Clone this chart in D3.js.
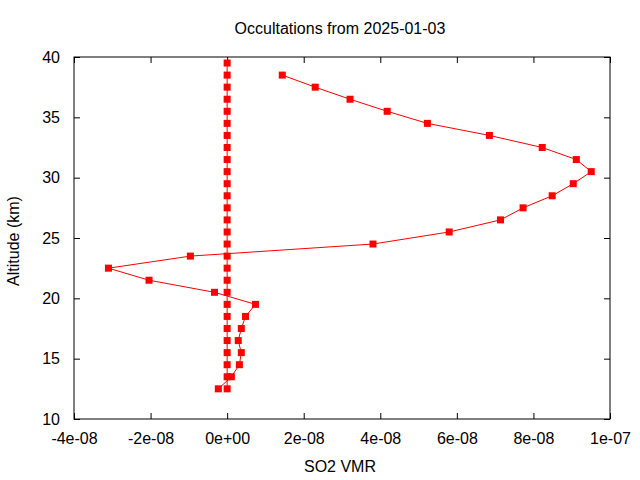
<!DOCTYPE html>
<html>
<head>
<meta charset="utf-8">
<script src="https://cdn.jsdelivr.net/npm/d3@7"></script>
<style>
  body { margin: 0; background: #fff; }
  text { font-family: "Liberation Sans", Arial, sans-serif; }
</style>
</head>
<body>
<svg id="chart" width="640" height="480"></svg>
<script>
    // altitudes (km) shared by both profiles
    let altitudes = [38.5, 37.5, 36.5, 35.5, 34.5, 33.5, 32.5, 31.5, 30.5, 29.5, 28.5, 27.5,
        26.5, 25.5, 24.5, 23.5, 22.5, 21.5, 20.5, 19.5, 18.5, 17.5, 16.5, 15.5, 14.5, 13.5, 12.5];
    // retrieved SO2 VMR
    let so2Values = [1.44e-8, 2.30e-8, 3.21e-8, 4.18e-8, 5.23e-8, 6.85e-8, 8.23e-8, 9.12e-8, 9.51e-8,
        9.04e-8, 8.49e-8, 7.73e-8, 7.14e-8, 5.80e-8, 3.81e-8, -9.6e-9, -3.10e-8, -2.04e-8, -3.3e-9,
        7.4e-9, 4.8e-9, 3.7e-9, 2.9e-9, 3.7e-9, 3.2e-9, 1.1e-9, -2.3e-9];
    // a priori profile, all zero
    let aprioriAlt = [39.5, 38.5, 37.5, 36.5, 35.5, 34.5, 33.5, 32.5, 31.5, 30.5, 29.5, 28.5, 27.5,
        26.5, 25.5, 24.5, 23.5, 22.5, 21.5, 20.5, 19.5, 18.5, 17.5, 16.5, 15.5, 14.5, 13.5, 12.5];
    let aprioriValues = [0, 0, 0, 0, 0, 0, 0, 0, 0, 0, 0, 0, 0, 0,
        0, 0, 0, 0, 0, 0, 0, 0, 0, 0, 0, 0, 0, 0];

    let xTicks = [-4e-8, -2e-8, 0, 2e-8, 4e-8, 6e-8, 8e-8, 1e-7];
    let xTickLabels = ['-4e-08', '-2e-08', '0e+00', '2e-08', '4e-08', '6e-08', '8e-08', '1e-07'];
    let yTicks = [10, 15, 20, 25, 30, 35, 40];

    (function () {
        let svg = d3.select('#chart');
        let plotLeft = 74, plotRight = 610, plotTop = 57, plotBottom = 419;
        let fontSize = 16;

        let xScale = d3.scaleLinear().domain([-4e-8, 1e-7]).range([plotLeft, plotRight]);
        let yScale = d3.scaleLinear().domain([10, 40]).range([plotBottom, plotTop]);

        function drawAxis(axis, transform, labels) {
            let g = svg.append('g').attr('transform', transform).call(axis);
            g.select('.domain').remove();
            g.selectAll('line').attr('stroke', '#000');
            if (!labels) g.selectAll('text').remove();
            else g.selectAll('text').attr('font-size', fontSize).attr('fill', '#000')
                .attr('font-family', '"Liberation Sans", Arial, sans-serif');
            return g;
        }

        // gnuplot style inward ticks on all four sides
        drawAxis(d3.axisBottom(xScale).tickValues(xTicks).tickSize(-6).tickPadding(14)
            .tickFormat(function (d, i) { return xTickLabels[i]; }), 'translate(0,' + plotBottom + ')', true);
        drawAxis(d3.axisTop(xScale).tickValues(xTicks).tickSize(-6), 'translate(0,' + plotTop + ')', false);
        drawAxis(d3.axisLeft(yScale).tickValues(yTicks).tickSize(-6).tickPadding(14), 'translate(' + plotLeft + ',0)', true);
        drawAxis(d3.axisRight(yScale).tickValues(yTicks).tickSize(-6), 'translate(' + plotRight + ',0)', false);

        svg.append('rect')
            .attr('x', plotLeft).attr('y', plotTop)
            .attr('width', plotRight - plotLeft).attr('height', plotBottom - plotTop)
            .attr('fill', 'none').attr('stroke', '#000').attr('stroke-width', 1);

        let line = d3.line()
            .x(function (d) { return xScale(d[0]); })
            .y(function (d) { return yScale(d[1]); });

        let series = [
            d3.zip(aprioriValues, aprioriAlt),
            d3.zip(so2Values, altitudes)
        ];

        series.forEach(function (pts) {
            svg.append('path')
                .datum(pts)
                .attr('d', line)
                .attr('fill', 'none')
                .attr('stroke', '#ff0000')
                .attr('stroke-width', 1);
            svg.append('g').selectAll('rect')
                .data(pts)
                .enter().append('rect')
                .attr('x', function (d) { return xScale(d[0]) - 3.5; })
                .attr('y', function (d) { return yScale(d[1]) - 3.5; })
                .attr('width', 7)
                .attr('height', 7)
                .attr('fill', '#ff0000');
        });

        svg.append('text')
            .attr('x', 340).attr('y', 34)
            .attr('text-anchor', 'middle').attr('font-size', fontSize)
            .text('Occultations from 2025-01-03');

        svg.append('text')
            .attr('x', 340).attr('y', 472)
            .attr('text-anchor', 'middle').attr('font-size', fontSize)
            .text('SO2 VMR');

        svg.append('text')
            .attr('transform', 'translate(19,241) rotate(-90)')
            .attr('text-anchor', 'middle').attr('font-size', fontSize)
            .text('Altitude (km)');
    })();
</script>
</body>
</html>
